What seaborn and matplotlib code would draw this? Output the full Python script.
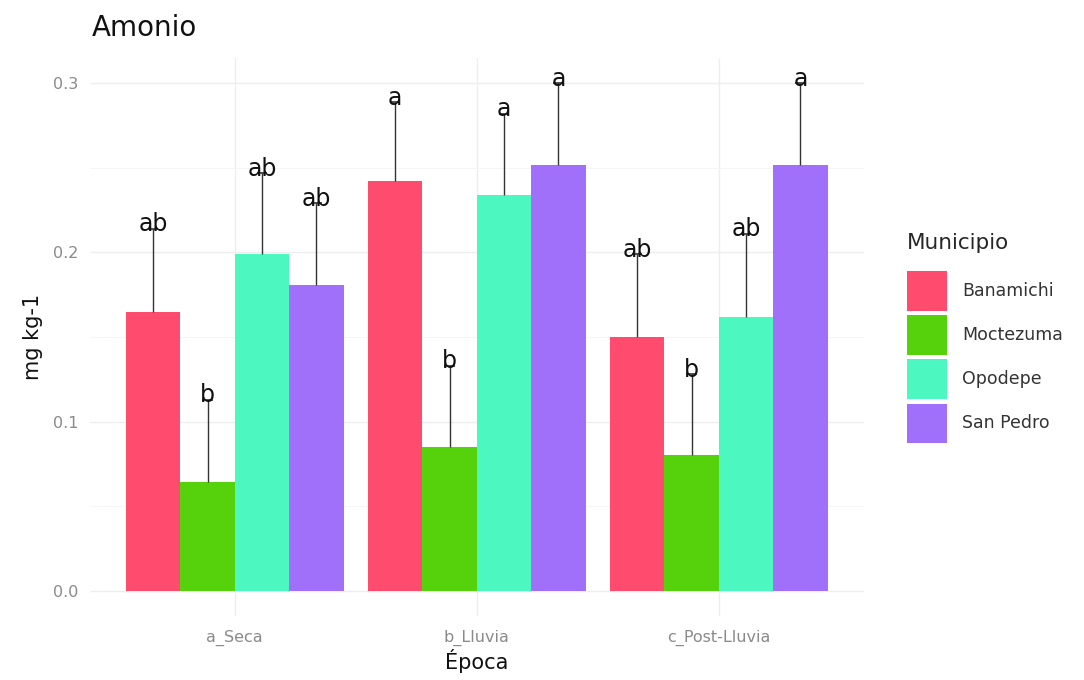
import numpy as np
import pandas as pd
import matplotlib
matplotlib.use("Agg")
import matplotlib.pyplot as plt
import matplotlib.patches as mpatches
from matplotlib.container import BarContainer
import seaborn as sns

epocas = ["a_Seca", "b_Lluvia", "c_Post-Lluvia"]
municipios = ["Banamichi", "Moctezuma", "Opodepe", "San Pedro"]
colores = ["#FF4B6E", "#55D20C", "#4CF7C0", "#A070FA"]

# means per municipio, ordered by epoca
banamichi = [0.165, 0.242, 0.150]
moctezuma = [0.064, 0.085, 0.080]
opodepe = [0.199, 0.234, 0.162]
san_pedro = [0.181, 0.252, 0.252]

# upper error (sd)
sd_banamichi = [0.049, 0.047, 0.049]
sd_moctezuma = [0.049, 0.048, 0.048]
sd_opodepe = [0.048, 0.048, 0.049]
sd_san_pedro = [0.048, 0.048, 0.048]

# significance letters
let_banamichi = ["ab", "a", "ab"]
let_moctezuma = ["b", "b", "b"]
let_opodepe = ["ab", "a", "ab"]
let_san_pedro = ["ab", "a", "a"]

means = [banamichi, moctezuma, opodepe, san_pedro]
sds = [sd_banamichi, sd_moctezuma, sd_opodepe, sd_san_pedro]
letters = [let_banamichi, let_moctezuma, let_opodepe, let_san_pedro]

rows = []
for m, vals in zip(municipios, means):
    for e, v in zip(epocas, vals):
        rows.append({"Epoca": e, "Municipio": m, "valor": v})
df = pd.DataFrame(rows)

sns.set_theme(style="whitegrid")
plt.rcParams["font.family"] = ["DejaVu Sans"]

fig = plt.figure(figsize=(10.84, 6.8), dpi=100)
ax = fig.add_axes([0.0826, 0.0941, 0.7144, 0.8206])

sns.barplot(data=df, x="Epoca", y="valor", hue="Municipio", order=epocas,
            hue_order=municipios, palette=colores, width=0.9, errorbar=None,
            saturation=1, ax=ax, legend=False, linewidth=0)

bar_conts = [c for c in ax.containers if isinstance(c, BarContainer)]
for ci, cont in enumerate(bar_conts):
    for j, p in enumerate(cont.patches):
        x = p.get_x() + p.get_width() / 2
        h = p.get_height()
        top = h + sds[ci][j]
        ax.vlines(x, h, top, color="#333333", linewidth=1.0, zorder=3)
        ax.hlines(top, x - 0.022, x + 0.022, color="#333333", linewidth=1.2, zorder=3)
        ax.text(x, top - 0.0015, letters[ci][j], ha="center", va="baseline",
                fontsize=17, color="#111111", zorder=4)

ax.set_xlim(-0.6, 2.6)
ax.set_ylim(-0.015, 0.315)
ax.set_yticks([0.0, 0.1, 0.2, 0.3])
ax.set_yticklabels(["0.0", "0.1", "0.2", "0.3"])
ax.set_yticks([0.05, 0.15, 0.25], minor=True)
ax.grid(True, which="major", color="#EEEEEE", linewidth=1.0)
ax.grid(True, which="minor", axis="y", color="#F5F5F5", linewidth=0.7)
ax.set_axisbelow(True)
for s in ax.spines.values():
    s.set_visible(False)
ax.tick_params(axis="both", which="both", length=0, labelsize=11.5, colors="#8A8A8A", pad=8)
ax.tick_params(axis="x", pad=10)
ax.set_xlabel("Época", fontsize=15, color="#111111", labelpad=2)
ax.set_ylabel("mg kg-1", fontsize=15, color="#111111", labelpad=7)
ax.set_title("Amonio", fontsize=20, loc="left", x=0.003, pad=16, color="#111111")

handles = [mpatches.Patch(facecolor=c, edgecolor="none", label=m) for c, m in zip(colores, municipios)]
leg = fig.legend(handles=handles, title="Municipio", loc="upper left",
                 bbox_to_anchor=(0.830, 0.668), frameon=False, fontsize=12.5,
                 title_fontsize=15.5, handlelength=2.3, handleheight=3.16,
                 labelspacing=0.25, handletextpad=0.9, borderaxespad=0)
leg._legend_box.align = "left"
leg._legend_box.sep = 13
for t in leg.get_texts():
    t.set_color("#333333")

fig.savefig("out.png", dpi=100)
